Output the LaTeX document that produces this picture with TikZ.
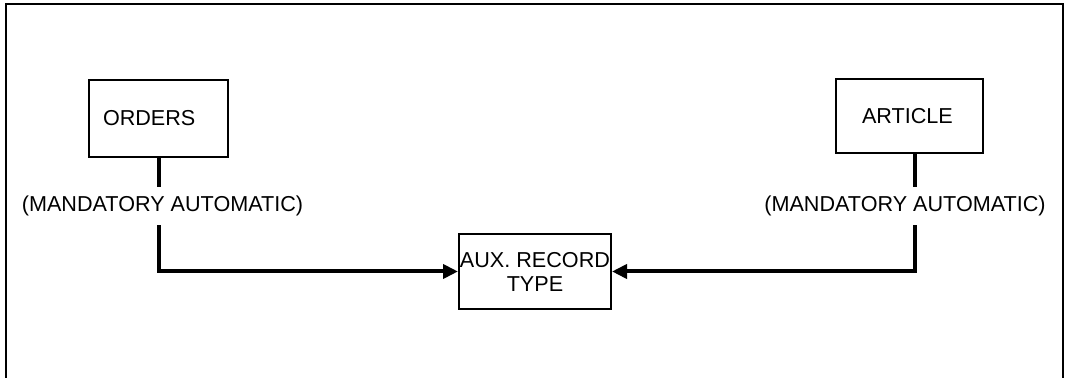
\documentclass[tikz,border=0pt]{standalone}
\usepackage{fontspec}
\setmainfont{Liberation Sans}
\usetikzlibrary{arrows.meta}

\begin{document}
\begin{tikzpicture}[x=0.5pt,y=-0.5pt,>={Triangle[length=7.5pt,width=7pt]},
  font=\fontsize{10.8}{12}\selectfont,
  record/.style={draw,line width=1pt,inner sep=0pt},
  link/.style={line width=2pt},
  setmode/.style={inner sep=0pt,minimum height=19pt}]

  \useasboundingbox (0,0) rectangle (1067,378);
  \draw[line width=1pt] (5.5,378) -- (5.5,4.5) -- (1062.5,4.5) -- (1062.5,378);

  \node[record, minimum width=69.5pt, minimum height=38.5pt, text width=55.5pt, align=left] (orders) at (158.5,118.5) {ORDERS};
  \node[record, minimum width=73.5pt, minimum height=37pt, text width=47.5pt, align=left] (article) at (909.5,116) {ARTICLE};
  \node[record, minimum width=76pt, minimum height=37.5pt, align=center] (aux) at (535,271.5) {AUX. RECORD\\TYPE};

  \node[setmode] (ordmode) at (162.5,206) {(MANDATORY AUTOMATIC)};
  \node[setmode] (artmode) at (905,206) {(MANDATORY AUTOMATIC)};

  \coordinate (artfoot) at ([xshift=2.75pt]article.south);

  \draw[link] (orders.south) -- (orders.south |- ordmode.north);
  \draw[link,->] (orders.south |- ordmode.south) |- (aux.west);

  \draw[link] (artfoot) -- (artfoot |- artmode.north);
  \draw[link,->] (artfoot |- artmode.south) |- (aux.east);
\end{tikzpicture}
\end{document}
